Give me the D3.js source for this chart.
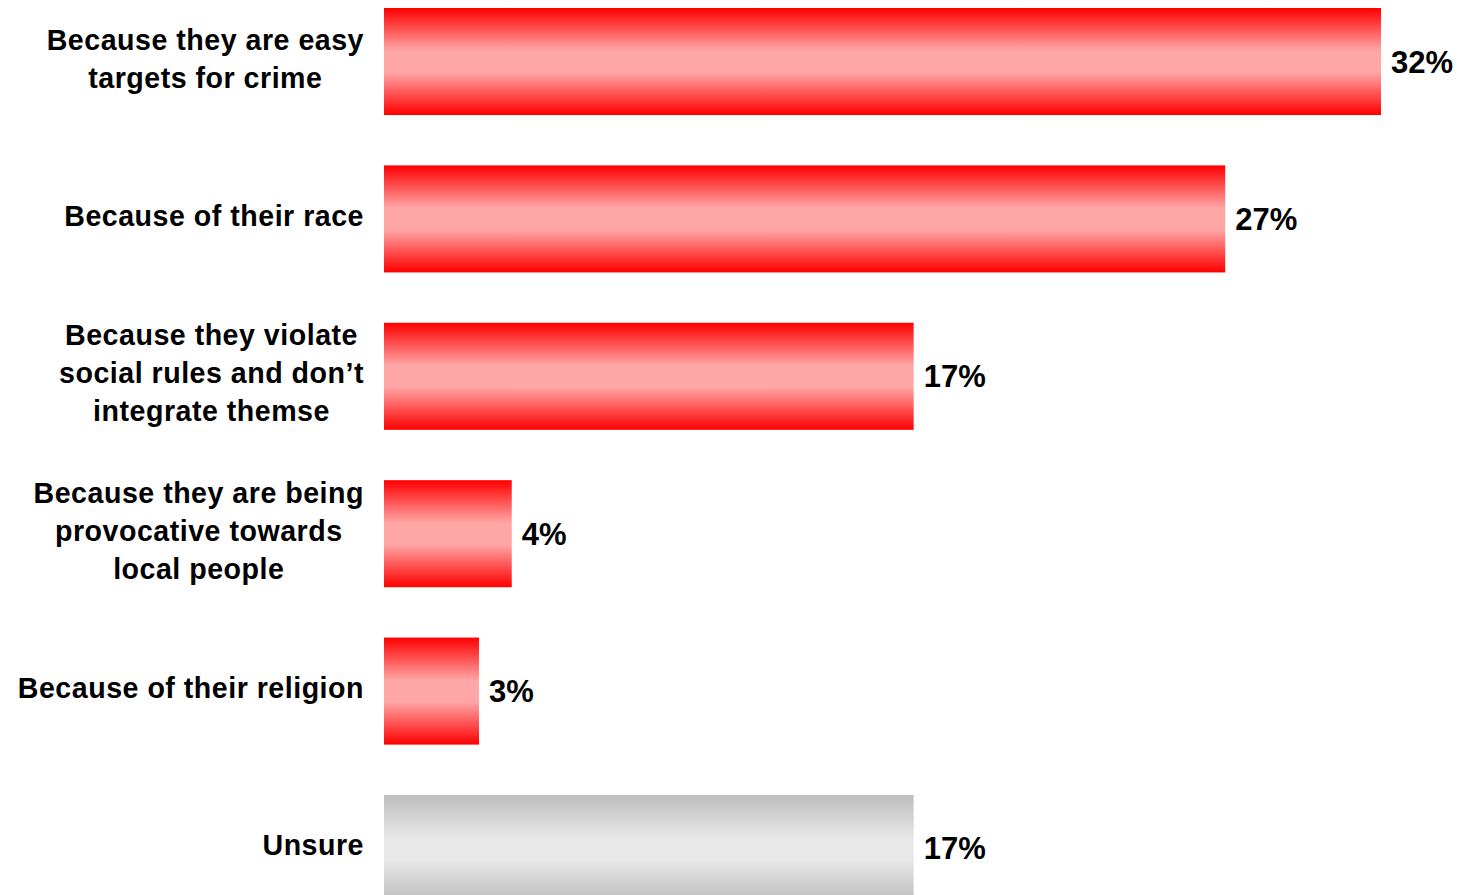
<!DOCTYPE html>
<html>
<head>
<meta charset="utf-8">
<script src="https://cdn.jsdelivr.net/npm/d3@7"></script>
<style>
  html, body { margin: 0; padding: 0; background: #fff; }
  svg { display: block; }
  text { font-family: "Liberation Sans", Arial, sans-serif; font-weight: bold; fill: #000; }
</style>
</head>
<body>
<svg id="chart" width="1458" height="895"></svg>
<script>
const categories = [
  "Because they are easy targets for crime",
  "Because of their race",
  "Because they violate social rules and don’t integrate themse",
  "Because they are being provocative towards local people",
  "Because of their religion",
  "Unsure"
];
const labelLines = [
  ["Because they are easy", "targets for crime"],
  ["Because of their race"],
  ["Because they violate", "social rules and don’t", "integrate themse"],
  ["Because they are being", "provocative towards", "local people"],
  ["Because of their religion"],
  ["Unsure"]
];
const values = [32, 27, 17, 4.1, 3.05, 17];
const valueLabels = ["32%", "27%", "17%", "4%", "3%", "17%"];
const barKinds = ["red", "red", "red", "red", "red", "grey"];

const svg = d3.select("#chart");

const defs = svg.append("defs");
function grad(id, edge, mid) {
  const g = defs.append("linearGradient").attr("id", id)
    .attr("x1", 0).attr("y1", 0).attr("x2", 0).attr("y2", 1);
  g.append("stop").attr("offset", "0%").attr("stop-color", edge);
  g.append("stop").attr("offset", "40%").attr("stop-color", mid);
  g.append("stop").attr("offset", "60%").attr("stop-color", mid);
  g.append("stop").attr("offset", "100%").attr("stop-color", edge);
}
grad("g-red", "#FF0000", "#FFA6A6");
grad("g-grey", "#BDBDBD", "#E8E8E8");

const x = d3.scaleLinear().domain([0, 32]).range([384, 1381]);
const y = d3.scaleBand().domain(categories).range([8, 902]).paddingInner(0.32).paddingOuter(0);

const data = categories.map((c, i) => ({ c, v: values[i], lab: valueLabels[i], lines: labelLines[i], kind: barKinds[i] }));

svg.append("g").selectAll("rect").data(data).join("rect")
  .attr("x", x(0))
  .attr("y", d => y(d.c))
  .attr("width", d => x(d.v) - x(0))
  .attr("height", y.bandwidth())
  .attr("fill", d => d.kind === "red" ? "url(#g-red)" : "url(#g-grey)");

svg.append("g").selectAll("text").data(data).join("text")
  .attr("x", d => x(d.v) + 10)
  .attr("y", d => y(d.c) + y.bandwidth() / 2)
  .attr("dy", "11px")
  .style("font-size", "31px")
  .text(d => d.lab);

// category labels: block right-aligned, lines centered within block
const labelRight = 364;
const lineH = 38;
const lg = svg.append("g");
data.forEach(d => {
  const g = lg.append("g");
  const cy = y(d.c) + y.bandwidth() / 2;
  const n = d.lines.length;
  const ts = d.lines.map((ln, j) => g.append("text")
    .attr("y", cy + (j - (n - 1) / 2) * lineH)
    .attr("dy", "7px")
    .attr("text-anchor", "middle")
    .style("font-size", "28.6px")
    .style("letter-spacing", "0.5px")
    .text(ln));
  const maxW = d3.max(ts, t => t.node().getComputedTextLength());
  const center = labelRight - maxW / 2;
  ts.forEach(t => t.attr("x", center));
});
</script>
</body>
</html>
